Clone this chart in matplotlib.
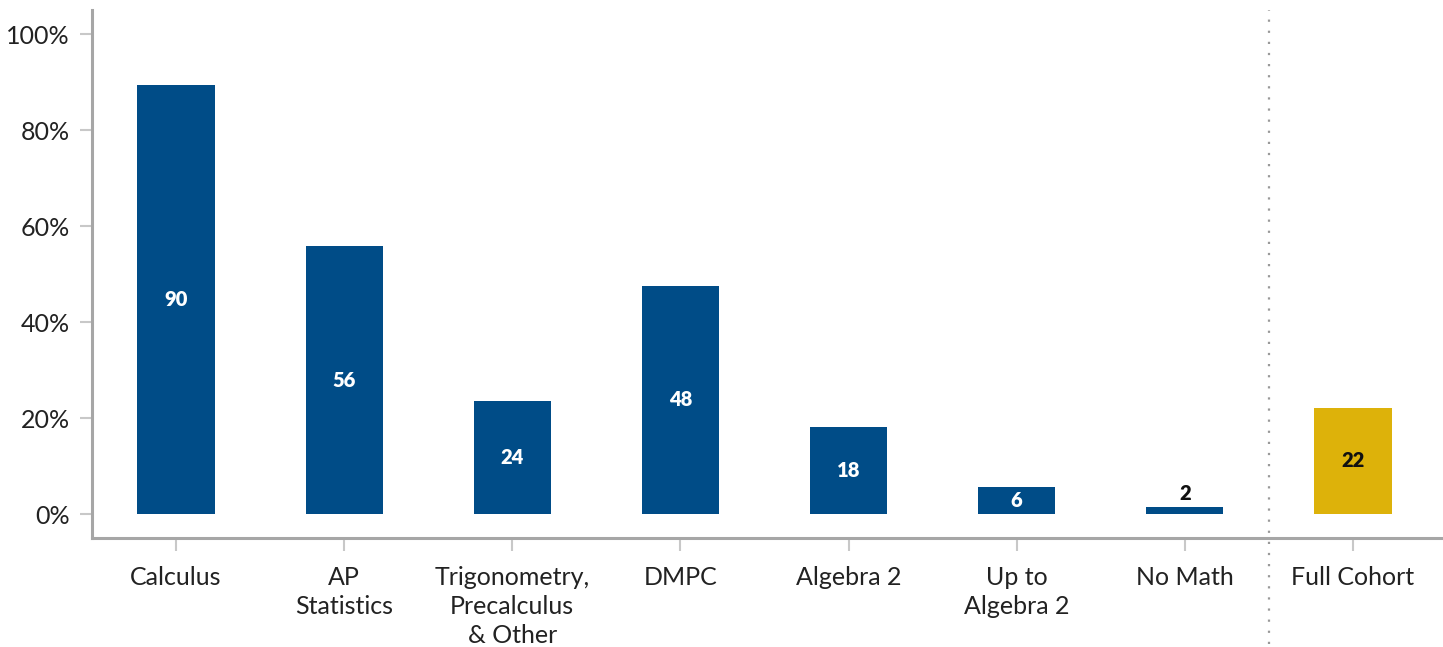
import matplotlib.pyplot as plt

categories = ['Calculus', 'AP\nStatistics', 'Trigonometry,\nPrecalculus\n& Other', 'DMPC',
              'Algebra 2', 'Up to\nAlgebra 2', 'No Math', 'Full Cohort']
values = [89.4, 55.8, 23.5, 47.5, 18.1, 5.6, 1.5, 22.1]
labels = ['90', '56', '24', '48', '18', '6', '2', '22']
yticks = [0, 20, 40, 60, 80, 100]

blue = '#004C87'
gold = '#DDB20A'
colors = [blue] * 7 + [gold]

plt.rcParams['font.family'] = ['Lato', 'DejaVu Sans']

fig = plt.figure(figsize=(14.43, 6.47), dpi=100)
ax = fig.add_axes([92 / 1443, 109 / 647, 1 - 92 / 1443, 528 / 647])

x = list(range(len(categories)))
ax.bar(x, values, width=0.46, color=colors)

for i, (v, lab) in enumerate(zip(values, labels)):
    if v < 4:
        ax.text(i, v + 2.8, lab, ha='center', va='center', fontsize=14.5, fontweight='heavy', color='#111111')
    else:
        col = '#111111' if colors[i] == gold else 'white'
        ax.text(i, v / 2, lab, ha='center', va='center', fontsize=14.5, fontweight='heavy', color=col)

ax.set_xlim(-0.5, 7.536)
ax.set_ylim(-5, 105)
ax.set_xticks(x)
ax.set_xticklabels(categories, fontsize=18, color='#222222', linespacing=1.32, va='top')
ax.set_yticks(yticks)
ax.set_yticklabels([f'{t}%' for t in yticks], fontsize=18, color='#222222')

for s in ['top', 'right']:
    ax.spines[s].set_visible(False)
for s in ['left', 'bottom']:
    ax.spines[s].set_color('#a6a6a6')
    ax.spines[s].set_linewidth(2.2)
ax.tick_params(axis='y', length=9, width=1.5, color='#c8c8c8', pad=7)
ax.tick_params(axis='x', length=9, width=1.5, color='#c8c8c8', pad=11)

# dotted separator before the full cohort bar
ax.axvline(6.5, ymin=-0.2, ymax=1.0, color='#999999', linestyle=(0, (1, 4)), linewidth=1.6, clip_on=False)

plt.savefig('out.png', dpi=100)
